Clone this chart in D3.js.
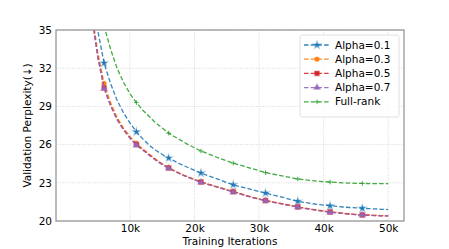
<!DOCTYPE html>
<html>
<head>
<meta charset="utf-8">
<script src="https://cdn.jsdelivr.net/npm/d3@7"></script>
<style>
body { margin: 0; background: #fff; }
text { font-family: "DejaVu Sans", sans-serif; fill: #000; }
</style>
</head>
<body>
<script>
// Width, height and plot box
var w = 449;
var h = 249;
var padL = 56, padR = 404, padT = 30, padB = 221;

// iterations in thousands
var iters = [1,2,3,4,5,6,7,8,9,10,11,12,13,14,15,16,17,18,19,20,21,22,23,24,25,
             26,27,28,29,30,31,32,33,34,35,36,37,38,39,40,41,42,43,44,45,46,47,48,49,50];

var alpha01 = [90,58,45,38.5,35,32.4,30.8,29.5,28.5,27.7,27.0,26.45,25.95,25.55,25.22,24.95,24.68,24.42,24.2,23.98,
               23.77,23.58,23.4,23.22,23.02,22.85,22.7,22.58,22.45,22.32,22.2,22.06,21.95,21.82,21.67,21.55,21.46,21.38,21.3,21.25,
               21.2,21.15,21.1,21.06,21.03,21.0,20.97,20.95,20.92,20.9];
var alpha03 = [85,52,41,36.8,33.3,30.8,29.3,28.15,27.3,26.65,26.1,25.65,25.25,24.85,24.5,24.2,23.93,23.68,23.47,23.27,
               23.08,22.92,22.77,22.62,22.47,22.32,22.17,22.02,21.87,21.74,21.62,21.52,21.42,21.32,21.22,21.12,21.02,20.94,20.87,20.79,
               20.72,20.67,20.62,20.57,20.52,20.49,20.47,20.45,20.43,20.42];
var alpha05 = [85,52,41,36.5,33.0,30.45,29.1,28.0,27.2,26.55,26.0,25.6,25.2,24.8,24.45,24.16,23.9,23.65,23.45,23.25,
               23.06,22.9,22.75,22.6,22.45,22.3,22.15,22.0,21.85,21.72,21.6,21.5,21.4,21.3,21.2,21.1,21.0,20.92,20.85,20.77,
               20.7,20.65,20.6,20.55,20.5,20.47,20.45,20.43,20.41,20.4];
var alpha07 = [85,52,41,36.4,32.9,30.4,29.05,27.95,27.15,26.5,25.95,25.55,25.15,24.77,24.43,24.14,23.88,23.63,23.43,23.23,
               23.04,22.88,22.73,22.58,22.43,22.28,22.13,21.98,21.84,21.71,21.59,21.49,21.39,21.29,21.19,21.09,20.99,20.91,20.84,20.76,
               20.69,20.64,20.59,20.54,20.5,20.47,20.45,20.43,20.41,20.4];
var fullRank = [120,75,55,45,39,35.3,33.5,32.0,30.9,30.0,29.3,28.7,28.2,27.7,27.3,26.9,26.6,26.3,26.0,25.75,
                25.5,25.3,25.1,24.9,24.72,24.55,24.4,24.25,24.1,23.95,23.8,23.7,23.6,23.5,23.4,23.3,23.24,23.18,23.13,23.09,
                23.06,23.03,23.0,22.98,22.96,22.95,22.94,22.94,22.93,22.93];

var seriesNames = ["Alpha=0.1","Alpha=0.3","Alpha=0.5","Alpha=0.7","Full-rank"];
var seriesValues = [alpha01, alpha03, alpha05, alpha07, fullRank];
var colors = ["#1f77b4","#ff7f0e","#d62728","#9467bd","#2ca02c"];
var markers = ["star","circle","square","triangle","plus"];

var yTicks = [20,23,26,29,32,35];
var xTicks = [10,20,30,40,50];

/***Draw SVG***/
var svg = d3.select("body")
            .append("svg")
            .attr("width", w)
            .attr("height", h);

/***Scales***/
var xScale = d3.scaleLinear()
               .domain([1 - 0.05*49, 50 + 0.05*49])
               .range([padL, padR]);
var yScale = d3.scaleLinear()
               .domain([20, 35])
               .range([padB, padT]);

/***Grid***/
svg.append("g").selectAll("line")
   .data(yTicks)
   .enter().append("line")
   .attr("x1", padL).attr("x2", padR)
   .attr("y1", function(d){ return yScale(d); })
   .attr("y2", function(d){ return yScale(d); })
   .attr("stroke", "#d0d0d0").attr("stroke-width", 0.8)
   .attr("stroke-dasharray", "1,1.3");
svg.append("g").selectAll("line")
   .data(xTicks)
   .enter().append("line")
   .attr("y1", padT).attr("y2", padB)
   .attr("x1", function(d){ return xScale(d); })
   .attr("x2", function(d){ return xScale(d); })
   .attr("stroke", "#d0d0d0").attr("stroke-width", 0.8)
   .attr("stroke-dasharray", "1,1.3");

/***Clip***/
svg.append("clipPath").attr("id", "clip")
   .append("rect")
   .attr("x", padL).attr("y", padT)
   .attr("width", padR-padL).attr("height", padB-padT);

var plot = svg.append("g").attr("clip-path", "url(#clip)");

var line = d3.line()
             .x(function(d){ return xScale(d[0]); })
             .y(function(d){ return yScale(d[1]); });

function drawMarker(g, type, color, x, y)
{
  if (type == "plus")
  {
    var s = 2.3;
    g.append("path")
     .attr("d", "M" + (x-s) + "," + y + "H" + (x+s) + "M" + x + "," + (y-s) + "V" + (y+s))
     .attr("stroke", color).attr("stroke-width", 1).attr("fill", "none").attr("opacity", 0.85);
    return;
  }
  var sym = {star: d3.symbolStar, circle: d3.symbolCircle,
             square: d3.symbolSquare, triangle: d3.symbolTriangle}[type];
  var size = {star: 13, circle: 16, square: 20, triangle: 15}[type];
  g.append("path")
   .attr("d", d3.symbol().type(sym).size(size)())
   .attr("transform", "translate(" + x + "," + y + ")")
   .attr("fill", color)
   .attr("stroke", color).attr("stroke-opacity", 0.35).attr("stroke-width", 1.5);
}

seriesValues.forEach(function(vals, i)
{
  var pts = iters.map(function(x, j){ return [x, vals[j]]; });
  plot.append("path")
      .datum(pts)
      .attr("d", line)
      .attr("fill", "none")
      .attr("stroke", colors[i])
      .attr("stroke-opacity", 0.9)
      .attr("stroke-width", 1.3)
      .attr("stroke-dasharray", "4.5,2.2");
  var mg = plot.append("g");
  pts.forEach(function(p, j)
  {
    if (j % 5 == 0) drawMarker(mg, markers[i], colors[i], xScale(p[0]), yScale(p[1]));
  });
});

/***Frame***/
svg.append("rect")
   .attr("x", padL).attr("y", padT)
   .attr("width", padR-padL).attr("height", padB-padT)
   .attr("fill", "none").attr("stroke", "#999").attr("stroke-width", 1.3);

/***Axes***/
var xAxis = d3.axisBottom()
              .scale(xScale)
              .tickValues(xTicks)
              .tickSize(0)
              .tickPadding(4)
              .tickFormat(function(d){ return d + "k"; });
var yAxis = d3.axisLeft()
              .scale(yScale)
              .tickValues(yTicks)
              .tickSize(0)
              .tickPadding(4);

var gx = svg.append("g")
   .attr("transform", "translate(0," + padB + ")")
   .call(xAxis);
var gy = svg.append("g")
   .attr("transform", "translate(" + padL + ",0)")
   .call(yAxis);
[gx, gy].forEach(function(g){
  g.select(".domain").remove();
  g.selectAll("text").style("font-size", "10.5px").attr("fill", "#000");
});

svg.append("text")
   .attr("x", (padL+padR)/2).attr("y", 245)
   .attr("text-anchor", "middle")
   .style("font-size", "10.5px")
   .text("Training Iterations");
svg.append("text")
   .attr("transform", "translate(31," + ((padT+padB)/2) + ")rotate(-90)")
   .attr("text-anchor", "middle")
   .style("font-size", "10.5px")
   .text("Validation Perplexity(\u2193)");

/***Legend***/
var legend = svg.append("g");
legend.append("rect")
      .attr("x", 300).attr("y", 35)
      .attr("width", 99).attr("height", 82)
      .attr("rx", 2)
      .attr("fill", "#fff").attr("fill-opacity", 0.8)
      .attr("stroke", "#d8d8d8").attr("stroke-width", 0.8);
seriesNames.forEach(function(name, i)
{
  var y = 45 + i*14.2;
  legend.append("line")
        .attr("x1", 304).attr("x2", 330)
        .attr("y1", y).attr("y2", y)
        .attr("stroke", colors[i]).attr("stroke-width", 1.3)
        .attr("stroke-opacity", 0.9)
        .attr("stroke-dasharray", "4.5,2.2");
  drawMarker(legend, markers[i], colors[i], 317, y);
  legend.append("text")
        .attr("x", 335).attr("y", y)
        .attr("dy", "0.35em")
        .style("font-size", "10.5px")
        .text(name);
});
</script>
</body>
</html>
